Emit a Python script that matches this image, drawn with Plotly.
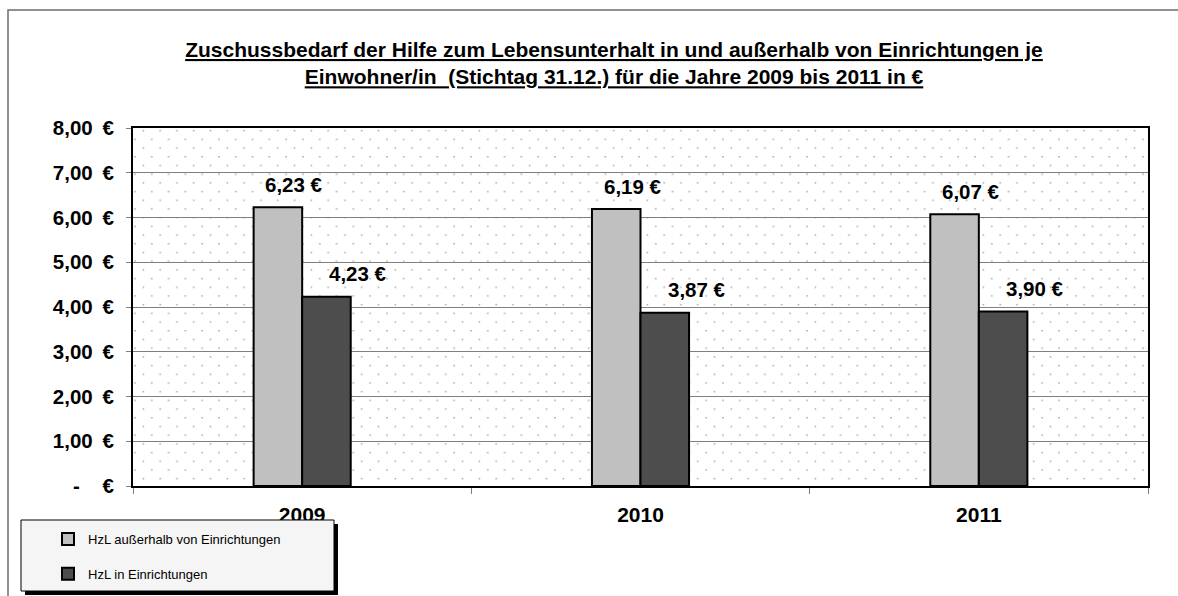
import base64
import plotly.graph_objects as go

# ---------------- data ----------------
YEARS = ["2009", "2010", "2011"]
OUTSIDE = [6.23, 6.19, 6.07]      # HzL außerhalb von Einrichtungen
INSIDE = [4.23, 3.87, 3.90]       # HzL in Einrichtungen
SERIES_NAMES = ["HzL außerhalb von Einrichtungen", "HzL in Einrichtungen"]
Y_TICKS = [0, 1, 2, 3, 4, 5, 6, 7, 8]
TITLE_LINES = [
    "Zuschussbedarf der Hilfe zum Lebensunterhalt in und außerhalb von Einrichtungen je",
    "Einwohner/in \u00a0(Stichtag 31.12.) für die Jahre 2009 bis 2011 in €",
]


def euro(v):
    return f"{v:.2f}".replace(".", ",") + " €"


def tick_euro(v):
    if v == 0:
        return "-\u00a0\u00a0\u00a0\u00a0€"
    return f"{v:.2f}".replace(".", ",") + "\u00a0\u2009€"


# ---------------- layout constants ----------------
W, H = 1178, 596
ML, MR, MT, MB = 133, 30, 128, 110
PW, PH = W - ML - MR, H - MT - MB
FONT = "Liberation Sans, Arial, sans-serif"
LIGHT, DARK = "#c0c0c0", "#4d4d4d"
LABEL_SIZE = 20.5


def pxx(px):
    return (px - ML) / PW


def pxy(py):
    return (H - MB - py) / PH


# dotted background pattern for the plot area
svg = (
    f"<svg xmlns='http://www.w3.org/2000/svg' width='{PW}' height='{PH}' viewBox='0 0 {PW} {PH}'>"
    "<defs><pattern id='p' width='16.8' height='17.4' patternUnits='userSpaceOnUse'>"
    "<rect x='9.6' y='1.9' width='1.5' height='1.5' fill='#a6a6a6'/>"
    "<rect x='1.2' y='10.6' width='1.5' height='1.5' fill='#a6a6a6'/>"
    "</pattern></defs>"
    f"<rect width='{PW}' height='{PH}' fill='url(#p)'/></svg>"
)
bg_uri = "data:image/svg+xml;base64," + base64.b64encode(svg.encode()).decode()

fig = go.Figure()
for name, vals, color, grp in [
    (SERIES_NAMES[0], OUTSIDE, LIGHT, "a"),
    (SERIES_NAMES[1], INSIDE, DARK, "b"),
]:
    fig.add_trace(go.Bar(
        x=YEARS, y=vals, name=name, legendgroup=grp,
        marker=dict(color=color, line=dict(color="black", width=2)),
        hoverinfo="skip",
    ))

# data labels (x given as category index on the category axis)
annotations = []
for vals, xs in [(OUTSIDE, -8), (INSIDE, 56)]:
    for idx, v in enumerate(vals):
        annotations.append(dict(
            x=idx, y=v, xref="x", yref="y", text=euro(v), showarrow=False,
            xshift=xs, yshift=23,
            font=dict(family=FONT, size=LABEL_SIZE, color="black", weight="bold"),
        ))

shapes = [
    # outer chart frame
    dict(type="rect", xref="paper", yref="paper",
         x0=pxx(8), x1=pxx(1300), y0=pxy(700), y1=pxy(10),
         line=dict(color="#6e6e6e", width=1.5), fillcolor="rgba(0,0,0,0)", layer="below"),
    # legend shadow
    dict(type="rect", xref="paper", yref="paper",
         x0=pxx(25), x1=pxx(338), y0=pxy(595), y1=pxy(524),
         line=dict(width=0), fillcolor="black", layer="above"),
    # legend box
    dict(type="rect", xref="paper", yref="paper",
         x0=pxx(21), x1=pxx(334), y0=pxy(591), y1=pxy(520),
         line=dict(color="black", width=1), fillcolor="#f5f5f5", layer="above"),
]

fig.update_layout(
    width=W, height=H,
    margin=dict(l=ML, r=MR, t=MT, b=MB, autoexpand=False),
    paper_bgcolor="white", plot_bgcolor="white",
    font=dict(family=FONT, color="black"),
    title=dict(
        text="<br>".join(TITLE_LINES),
        x=614 / W, xanchor="center", y=1 - 57 / H, yanchor="top",
        font=dict(family=FONT, size=21, color="black", weight="bold", lineposition="under"),
    ),
    barmode="group", bargap=0.713, bargroupgap=0,
    xaxis=dict(
        type="category", range=[-0.5, len(YEARS) - 0.5],
        showline=True, linecolor="black", linewidth=2, mirror=True,
        ticks="outside", tickson="boundaries", ticklen=6, tickcolor="#808080",
        ticklabelstandoff=9,
        tickfont=dict(family=FONT, size=21, color="black", weight="bold"),
        showgrid=False, fixedrange=True,
    ),
    yaxis=dict(
        range=[0, 8], tickvals=Y_TICKS, ticktext=[tick_euro(v) for v in Y_TICKS],
        showline=True, linecolor="black", linewidth=2, mirror=True,
        ticks="outside", ticklen=5, tickcolor="#808080", ticklabelstandoff=8,
        showgrid=True, gridcolor="#7f7f7f", gridwidth=1, zeroline=False,
        tickfont=dict(family=FONT, size=LABEL_SIZE, color="black", weight="bold"),
        fixedrange=True,
    ),
    legend=dict(
        x=pxx(48), y=pxy(524), xanchor="left", yanchor="top",
        bgcolor="rgba(0,0,0,0)", borderwidth=0, traceorder="grouped",
        tracegroupgap=15, font=dict(family=FONT, size=13, color="black"),
    ),
    annotations=annotations,
    shapes=shapes,
    images=[dict(source=bg_uri, xref="paper", yref="paper", x=0, y=1,
                 sizex=1, sizey=1, sizing="stretch", xanchor="left", yanchor="top",
                 layer="below")],
)

fig.write_html("out.html", config={"displayModeBar": False},
               post_script="document.body.style.margin='0';")
